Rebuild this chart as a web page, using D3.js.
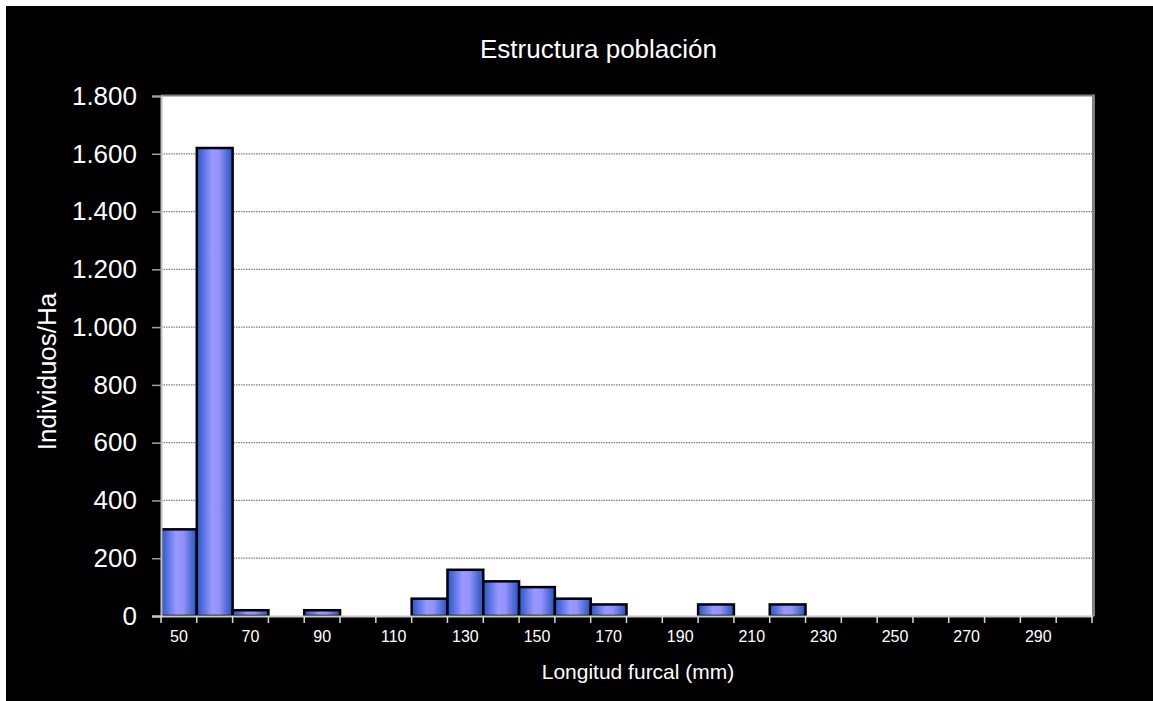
<!DOCTYPE html>
<html>
<head>
<meta charset="utf-8">
<script src="https://cdn.jsdelivr.net/npm/d3@7"></script>
<style>
  html, body { margin: 0; padding: 0; background: #ffffff; }
  svg { display: block; }
  text { font-family: "Liberation Sans", Arial, sans-serif; fill: #ffffff; }
</style>
</head>
<body>
<svg id="chart" width="1153" height="701"></svg>
<script>
// ---- data ----
const categories = [50, 60, 70, 80, 90, 100, 110, 120, 130, 140, 150, 160, 170, 180, 190,
                    200, 210, 220, 230, 240, 250, 260, 270, 280, 290, 300];
const values = [300, 1620, 20, 0, 20, 0, 0, 60, 160, 120, 100, 60, 40, 0, 0,
                40, 0, 40, 0, 0, 0, 0, 0, 0, 0, 0];
const xTickLabels = [50, 70, 90, 110, 130, 150, 170, 190, 210, 230, 250, 270, 290];
const yTicks = [0, 200, 400, 600, 800, 1000, 1200, 1400, 1600, 1800];
const titleText = "Estructura población";
const xTitle = "Longitud furcal (mm)";
const yTitle = "Individuos/Ha";

// ---- layout ----
const W = 1153, H = 701;
const plot = { left: 161, right: 1092, top: 96, bottom: 616 };

const svg = d3.select("#chart");

// background
svg.append("rect").attr("x", 0).attr("y", 0).attr("width", W).attr("height", H).attr("fill", "#ffffff");
svg.append("rect").attr("x", 6).attr("y", 6).attr("width", W - 6).attr("height", H - 6).attr("fill", "#000000");

// gradient
const defs = svg.append("defs");
const grad = defs.append("linearGradient").attr("id", "barGrad")
  .attr("x1", "0%").attr("x2", "100%").attr("y1", "0%").attr("y2", "0%");
grad.append("stop").attr("offset", "0%").attr("stop-color", "#2556c8");
grad.append("stop").attr("offset", "42%").attr("stop-color", "#9898ff");
grad.append("stop").attr("offset", "62%").attr("stop-color", "#9292fa");
grad.append("stop").attr("offset", "100%").attr("stop-color", "#2452c0");

// scales
const x = d3.scaleBand().domain(categories).range([plot.left, plot.right]).padding(0);
const y = d3.scaleLinear().domain([0, 1800]).range([plot.bottom, plot.top]);

const locale = d3.formatLocale({ decimal: ",", thousands: ".", grouping: [3], currency: ["", "€"] });
const fmt = locale.format(",d");

// plot area
svg.append("rect")
  .attr("x", plot.left).attr("y", plot.top)
  .attr("width", plot.right - plot.left).attr("height", plot.bottom - plot.top)
  .attr("fill", "#ffffff");

// gridlines
svg.append("g").selectAll("line")
  .data(yTicks.filter(d => d > 0 && d < 1800))
  .join("line")
  .attr("x1", plot.left).attr("x2", plot.right)
  .attr("y1", d => y(d)).attr("y2", d => y(d))
  .attr("stroke", "#808080").attr("stroke-width", 1.2)
  .attr("stroke-dasharray", "1.5,1");

// bars
svg.append("g").selectAll("rect")
  .data(categories.map((c, i) => ({ c, v: values[i] })).filter(d => d.v > 0))
  .join("rect")
  .attr("x", d => x(d.c))
  .attr("y", d => y(d.v))
  .attr("width", x.bandwidth())
  .attr("height", d => y(0) - y(d.v))
  .attr("fill", "url(#barGrad)")
  .attr("stroke", "#000000")
  .attr("stroke-width", 2.5);

// plot border top/right (dark grey)
svg.append("line").attr("x1", plot.left).attr("x2", plot.right + 1.5)
  .attr("y1", plot.top - 0.5).attr("y2", plot.top - 0.5)
  .attr("stroke", "#808080").attr("stroke-width", 2);
svg.append("line").attr("x1", plot.right + 1.5).attr("x2", plot.right + 1.5)
  .attr("y1", plot.top - 1.5).attr("y2", plot.bottom)
  .attr("stroke", "#808080").attr("stroke-width", 3);

// y axis
const yAxis = d3.axisLeft(y).tickValues(yTicks).tickFormat(fmt).tickSize(9).tickPadding(15);
const gy = svg.append("g").attr("transform", `translate(${plot.left},0)`).call(yAxis);
gy.select(".domain").attr("stroke", "#c0c0c0").attr("stroke-width", 2);
gy.selectAll(".tick line").attr("stroke", "#a0a0a0").attr("stroke-width", 1.5);
gy.selectAll(".tick text")
  .attr("fill", "#ffffff")
  .style("font-size", "26px")
  .style("font-family", '"Liberation Sans", Arial, sans-serif');

// x axis: ticks at band boundaries
const boundaries = categories.map(c => x(c)).concat([plot.right]);
const gx = svg.append("g");
gx.append("line").attr("x1", plot.left - 9).attr("x2", plot.right + 1.5)
  .attr("y1", plot.bottom + 0.5).attr("y2", plot.bottom + 0.5)
  .attr("stroke", "#c8c8c8").attr("stroke-width", 2);
gx.selectAll("line.tk").data(boundaries).join("line").attr("class", "tk")
  .attr("x1", d => d).attr("x2", d => d)
  .attr("y1", plot.bottom).attr("y2", plot.bottom + 7)
  .attr("stroke", "#d8d8d8").attr("stroke-width", 1.5);
gx.selectAll("text").data(xTickLabels).join("text")
  .attr("x", d => x(d) + x.bandwidth() / 2)
  .attr("y", 642)
  .attr("text-anchor", "middle")
  .style("font-size", "16px")
  .text(d => d);

// titles
svg.append("text").attr("x", 598.5).attr("y", 57.5).attr("text-anchor", "middle")
  .style("font-size", "26px").text(titleText);
svg.append("text").attr("x", 638).attr("y", 678.5).attr("text-anchor", "middle")
  .style("font-size", "21px").text(xTitle);
svg.append("text")
  .attr("transform", "translate(55.5,371.5) rotate(-90)")
  .attr("text-anchor", "middle")
  .style("font-size", "26px").text(yTitle);
</script>
</body>
</html>
